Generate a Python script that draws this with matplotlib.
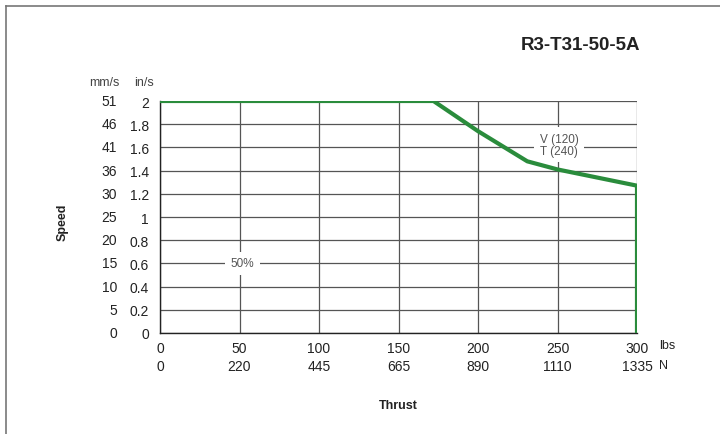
import matplotlib
matplotlib.use('Agg')
import matplotlib.pyplot as plt
from matplotlib.lines import Line2D

plt.rcParams['font.family'] = ['Liberation Sans', 'DejaVu Sans']

# ── Dados ─────────────────────────────────────────────────────────────────────
thrust_lbs = [0, 172, 200, 231, 250, 300, 300]
speed_ins = [2.0, 2.0, 1.74, 1.48, 1.41, 1.27, 0.0]

x_ticks_lbs = [0, 50, 100, 150, 200, 250, 300]
x_labels_n = ['0', '220', '445', '665', '890', '1110', '1335']
y_ticks_ins = [0, 0.2, 0.4, 0.6, 0.8, 1.0, 1.2, 1.4, 1.6, 1.8, 2.0]
y_labels_ins = ['0', '0.2', '0.4', '0.6', '0.8', '1', '1.2', '1.4', '1.6', '1.8', '2']
y_labels_mms = ['0', '5', '10', '15', '20', '25', '30', '36', '41', '46', '51']

title = 'R3-T31-50-5A'
green = '#2a8c3c'
txt = '#222222'

# ── Figura ────────────────────────────────────────────────────────────────────
fig = plt.figure(figsize=(7.2, 4.35), dpi=100)
ax = fig.add_axes([160 / 720, 1 - 334 / 435, 477 / 720, 232 / 435])

# moldura (esquerda e topo)
fig.add_artist(Line2D([6 / 720, 6 / 720], [0, 1 - 7 / 435], color='#777777', lw=1.2))
fig.add_artist(Line2D([6 / 720, 1], [1 - 7 / 435, 1 - 7 / 435], color='#777777', lw=1.2))

ax.set_xlim(0, 300)
ax.set_ylim(0, 2)
ax.set_xticks(x_ticks_lbs)
ax.set_xticklabels([str(v) for v in x_ticks_lbs])
ax.set_yticks(y_ticks_ins)
ax.set_yticklabels(y_labels_ins)
ax.tick_params(length=0, labelsize=10, colors=txt, pad=6)
ax.tick_params(axis='y', pad=8)
ax.grid(True, color='#555555', linewidth=0.9)
ax.set_axisbelow(True)
for s in ['top', 'right']:
    ax.spines[s].set_visible(False)
for s in ['left', 'bottom']:
    ax.spines[s].set_color('#222222')
    ax.spines[s].set_linewidth(1.0)

ax.plot(thrust_lbs, speed_ins, color=green, lw=3.0, solid_joinstyle='round', zorder=5)

# rótulos mm/s
ytr = ax.get_yaxis_transform()
for v, lab in zip(y_ticks_ins, y_labels_mms):
    ax.text(-43 / 477, v, lab, transform=ytr, ha='right', va='center',
            fontsize=10, color=txt)
ax.text(-56 / 477, 2.165, 'mm/s', transform=ytr, ha='center', va='center',
        fontsize=9, color='#444444')
ax.text(-16 / 477, 2.165, 'in/s', transform=ytr, ha='center', va='center',
        fontsize=9, color='#444444')

# rótulos N
xtr = ax.get_xaxis_transform()
for v, lab in zip(x_ticks_lbs, x_labels_n):
    ax.text(v, -33 / 232, lab, transform=xtr, ha='center', va='center',
            fontsize=10, color=txt)
ax.text(314, -12 / 232, 'lbs', transform=xtr, ha='left', va='center',
        fontsize=9, color=txt)
ax.text(314, -32 / 232, 'N', transform=xtr, ha='left', va='center',
        fontsize=9, color=txt)

# anotações sobre as linhas de grade
ax.text(251, 1.625, 'V (120)\nT (240)', ha='center', va='center', fontsize=8.5,
        color='#555555', linespacing=1.0,
        bbox=dict(facecolor='white', edgecolor='none', pad=4))
ax.text(52, 0.6, '50%', ha='center', va='center', fontsize=8.5, color='#555555',
        bbox=dict(facecolor='white', edgecolor='none', pad=4))

fig.text(398 / 720, 1 - 406 / 435, 'Thrust', ha='center', va='center',
         fontsize=9, fontweight='bold', color=txt)
fig.text(63 / 720, 1 - 222 / 435, 'Speed', ha='center', va='center',
         fontsize=9, fontweight='bold', color=txt, rotation=90)
fig.text(640 / 720, 1 - 45 / 435, title, ha='right', va='center',
         fontsize=13.5, fontweight='bold', color=txt)

fig.savefig('out.png', dpi=100)
